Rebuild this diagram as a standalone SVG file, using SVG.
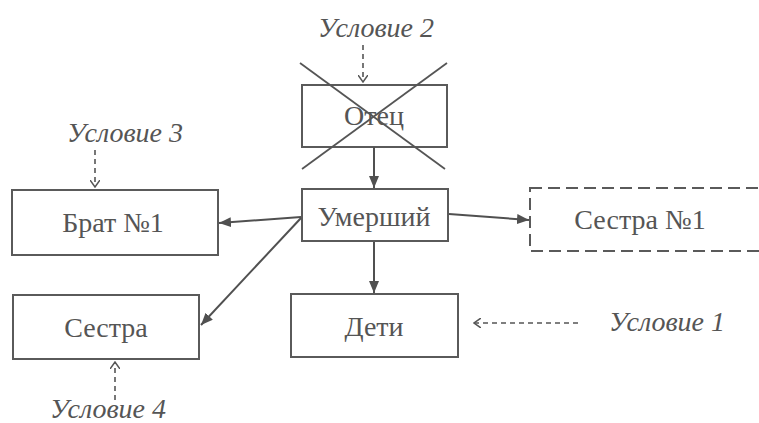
<svg xmlns="http://www.w3.org/2000/svg" width="759" height="423" viewBox="0 0 759 423">
<defs>
<style>
.box{fill:#fff;stroke:#5a5a5a;stroke-width:2}
.lbl{font-family:'Liberation Serif','Times New Roman','DejaVu Serif',serif;font-size:28px;fill:#555;text-anchor:middle}
.cond{font-family:'Liberation Serif','Times New Roman','DejaVu Serif',serif;font-size:28px;font-style:italic;fill:#555;text-anchor:middle}
.edge{stroke:#505050;stroke-width:2;fill:none}
.dash{stroke:#555;stroke-width:1.6;fill:none;stroke-dasharray:5,4}
.cross{stroke:#555;stroke-width:1.8}
</style>
<marker id="ah" viewBox="0 0 12 10" refX="12" refY="5" markerWidth="12" markerHeight="10" markerUnits="userSpaceOnUse" orient="auto">
<path d="M0,0 L12,5 L0,10 Z" fill="#505050"/>
</marker>
<marker id="oh" viewBox="0 0 8 10" refX="7" refY="5" markerWidth="8" markerHeight="10" markerUnits="userSpaceOnUse" orient="auto">
<path d="M0,0 L7,5 L0,10" fill="none" stroke="#555" stroke-width="1.5"/>
</marker>
</defs>
<rect width="759" height="423" fill="#fff"/>
<g id="father">
<rect class="box" x="302" y="85" width="145" height="62"/>
<text class="lbl" x="374" y="125">Отец</text>
<line class="cross" x1="300" y1="63" x2="445" y2="169"/>
<line class="cross" x1="447" y1="63" x2="302" y2="169"/>
</g>
<g id="deceased">
<rect class="box" x="302" y="189" width="146" height="52" stroke-width="3.5"/>
<text class="lbl" x="374" y="226">Умерший</text>
</g>
<g id="brother1">
<rect class="box" x="12" y="190" width="206" height="65"/>
<text class="lbl" x="113" y="232">Брат №1</text>
</g>
<g id="sister1">
<rect class="box" x="530" y="188" width="245" height="63" stroke-dasharray="12,6"/>
<text class="lbl" x="640" y="229">Сестра №1</text>
</g>
<g id="sister">
<rect class="box" x="13" y="295" width="186" height="64"/>
<text class="lbl" x="106" y="337">Сестра</text>
</g>
<g id="children">
<rect class="box" x="291" y="294" width="167" height="63"/>
<text class="lbl" x="374" y="336">Дети</text>
</g>
<g id="conditions">
<text class="cond" x="376" y="37">Условие 2</text>
<text class="cond" x="125" y="142">Условие 3</text>
<text class="cond" x="108" y="418">Условие 4</text>
<text class="cond" x="667" y="331">Условие 1</text>
</g>
<g id="connectors">
<line class="edge" x1="374" y1="147" x2="374" y2="188" marker-end="url(#ah)"/>
<line class="edge" x1="374" y1="242" x2="374" y2="293" marker-end="url(#ah)"/>
<line class="edge" x1="301" y1="217" x2="219" y2="223" marker-end="url(#ah)"/>
<line class="edge" x1="301" y1="218" x2="201" y2="325" marker-end="url(#ah)"/>
<line class="edge" x1="449" y1="214" x2="529" y2="220" marker-end="url(#ah)"/>
<line class="dash" x1="363" y1="45" x2="363" y2="82" marker-end="url(#oh)"/>
<line class="dash" x1="95" y1="150" x2="95" y2="187" marker-end="url(#oh)"/>
<line class="dash" x1="115" y1="400" x2="115" y2="362" marker-end="url(#oh)"/>
<line class="dash" x1="578" y1="323" x2="474" y2="323" marker-end="url(#oh)"/>
</g>
</svg>
